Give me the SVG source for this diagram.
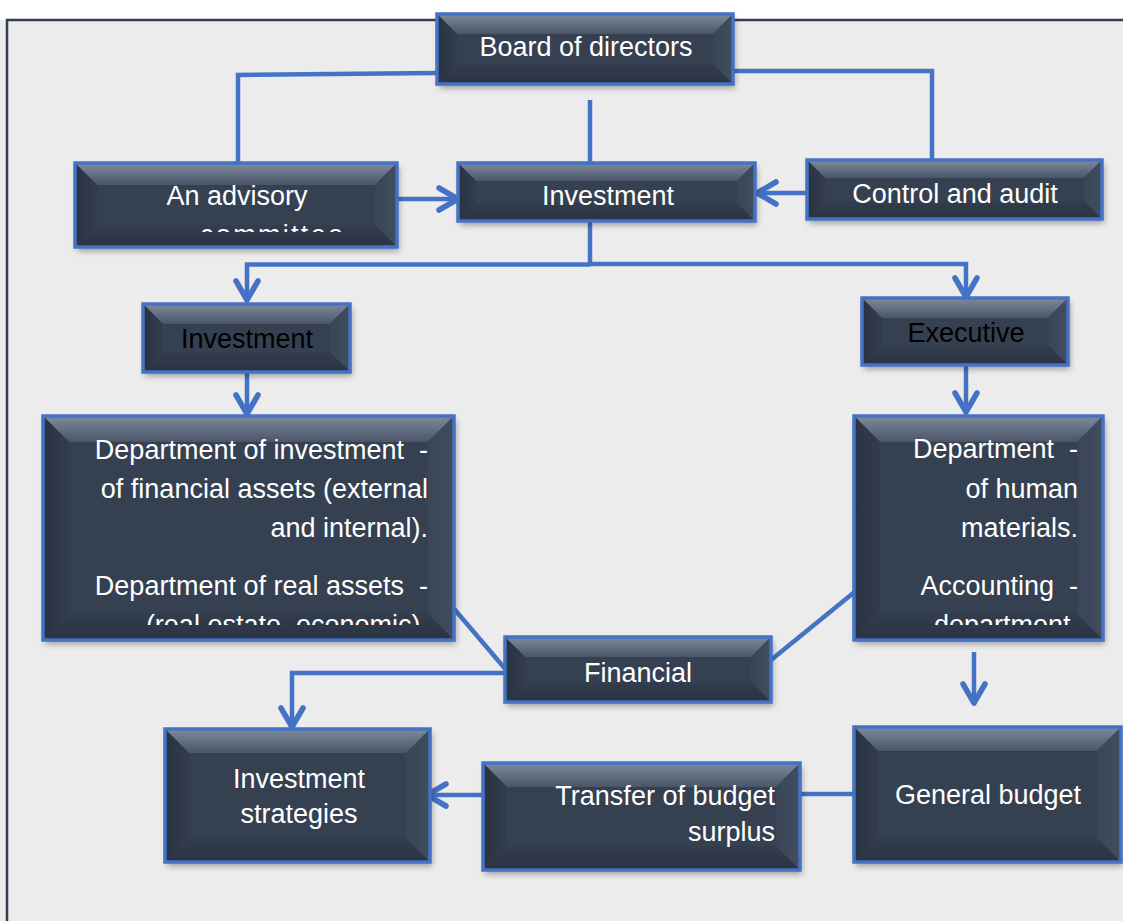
<svg xmlns="http://www.w3.org/2000/svg" width="1123" height="921" viewBox="0 0 1123 921">
<style>
.base{fill:#343f51}
.tp{fill:url(#gt)}
.lf{fill:url(#gl)}
.rt{fill:url(#gr)}
.bt{fill:url(#gb)}
.fr{fill:none;stroke:#4472c4;stroke-width:3.5}
.t{font-family:"Liberation Sans",Arial,sans-serif;font-size:27px;fill:#ffffff;white-space:pre}
.dk{fill:#000000}
.c{fill:none;stroke:#4472c4;stroke-width:4.5}
.ca{fill:none;stroke:#4472c4;stroke-width:4.5;marker-end:url(#ar)}
</style>
<defs>
<linearGradient id="gt" x1="0" y1="0" x2="0" y2="1">
<stop offset="0" stop-color="#7f8a9c"/>
<stop offset="1" stop-color="#4a5568"/>
</linearGradient>
<linearGradient id="gl" x1="0" y1="0" x2="1" y2="0">
<stop offset="0" stop-color="#2a3341"/>
<stop offset="1" stop-color="#313c4d"/>
</linearGradient>
<linearGradient id="gr" x1="0" y1="0" x2="1" y2="0">
<stop offset="0" stop-color="#3a4557"/>
<stop offset="1" stop-color="#414d60"/>
</linearGradient>
<linearGradient id="gb" x1="0" y1="0" x2="0" y2="1">
<stop offset="0" stop-color="#323d4e"/>
<stop offset="1" stop-color="#2a3341"/>
</linearGradient>
<filter id="sh" x="-10%" y="-10%" width="125%" height="130%">
<feDropShadow dx="2" dy="4" stdDeviation="3" flood-color="#000" flood-opacity="0.35"/>
</filter>
<marker id="ar" viewBox="-26 -16 32 32" refX="0" refY="0" markerWidth="32" markerHeight="32" markerUnits="userSpaceOnUse" orient="auto">
<path d="M-19,-11 L0,0 L-19,11" fill="none" stroke="#4472c4" stroke-width="5.5" stroke-linecap="round" stroke-linejoin="round"/>
</marker>
<clipPath id="clipAdv"><rect x="75" y="163" width="322" height="69"/></clipPath>
<clipPath id="clipDL"><rect x="43" y="416" width="411" height="209"/></clipPath>
<clipPath id="clipDR"><rect x="854" y="416" width="249" height="209"/></clipPath>
</defs>

<rect x="0" y="20" width="1123" height="901" fill="#ececec"/>
<path d="M7,921 V20 H1123" fill="none" stroke="#333f50" stroke-width="2.5"/>

<g id="connectors">
<polyline class="c" points="437,73 238,75 238,163"/>
<polyline class="c" points="733,71 932,71 932,160"/>
<line class="c" x1="590" y1="100" x2="590" y2="163"/>
<line class="ca" x1="397" y1="199" x2="458" y2="199"/>
<line class="ca" x1="807" y1="193" x2="757" y2="193"/>
<line class="c" x1="590" y1="221" x2="590" y2="265"/>
<path class="ca" d="M590,264.5 H247 V300"/>
<path class="ca" d="M588,264 H966 V297"/>
<line class="ca" x1="247" y1="372" x2="247" y2="414"/>
<line class="ca" x1="966" y1="365" x2="966" y2="412"/>
<line class="c" x1="444" y1="597" x2="507" y2="671"/>
<line class="c" x1="857" y1="590" x2="771" y2="660"/>
<path class="ca" d="M505,673 H292 V727"/>
<line class="ca" x1="974" y1="652" x2="974" y2="703"/>
<line class="c" x1="854" y1="794" x2="800" y2="794"/>
<line class="ca" x1="483" y1="795" x2="427" y2="795"/>
</g>

<g id="board">
<rect class="base" x="437" y="14" width="296" height="70" filter="url(#sh)"/>
<polygon class="tp" points="437,14 733,14 713,34 457,34"/>
<polygon class="lf" points="437,14 457,34 457,64 437,84"/>
<polygon class="rt" points="733,14 713,34 713,64 733,84"/>
<polygon class="bt" points="437,84 733,84 713,64 457,64"/>
<rect class="fr" x="437" y="14" width="296" height="70"/>
<text class="t" x="586" y="56" text-anchor="middle">Board of directors</text>
</g>

<g id="advisory">
<rect class="base" x="75" y="163" width="322" height="84" filter="url(#sh)"/>
<polygon class="tp" points="75,163 397,163 375,185 97,185"/>
<polygon class="lf" points="75,163 97,185 97,225 75,247"/>
<polygon class="rt" points="397,163 375,185 375,225 397,247"/>
<polygon class="bt" points="75,247 397,247 375,225 97,225"/>
<rect class="fr" x="75" y="163" width="322" height="84"/>
<text class="t" x="237" y="205" text-anchor="middle">An advisory</text>
<text class="t" x="200" y="244" clip-path="url(#clipAdv)" textLength="143">committee</text>
</g>

<g id="investment-main">
<rect class="base" x="458" y="163" width="297" height="58" filter="url(#sh)"/>
<polygon class="tp" points="458,163 755,163 737,181 476,181"/>
<polygon class="lf" points="458,163 476,181 476,203 458,221"/>
<polygon class="rt" points="755,163 737,181 737,203 755,221"/>
<polygon class="bt" points="458,221 755,221 737,203 476,203"/>
<rect class="fr" x="458" y="163" width="297" height="58"/>
<text class="t" x="608" y="205" text-anchor="middle">Investment</text>
</g>

<g id="control">
<rect class="base" x="807" y="160" width="295" height="59" filter="url(#sh)"/>
<polygon class="tp" points="807,160 1102,160 1084,178 825,178"/>
<polygon class="lf" points="807,160 825,178 825,201 807,219"/>
<polygon class="rt" points="1102,160 1084,178 1084,201 1102,219"/>
<polygon class="bt" points="807,219 1102,219 1084,201 825,201"/>
<rect class="fr" x="807" y="160" width="295" height="59"/>
<text class="t" x="955" y="203" text-anchor="middle">Control and audit</text>
</g>

<g id="investment-left">
<rect class="base" x="143" y="304" width="207" height="68" filter="url(#sh)"/>
<polygon class="tp" points="143,304 350,304 330,324 163,324"/>
<polygon class="lf" points="143,304 163,324 163,352 143,372"/>
<polygon class="rt" points="350,304 330,324 330,352 350,372"/>
<polygon class="bt" points="143,372 350,372 330,352 163,352"/>
<rect class="fr" x="143" y="304" width="207" height="68"/>
<text class="t dk" x="247" y="348" text-anchor="middle">Investment</text>
</g>

<g id="executive">
<rect class="base" x="862" y="298" width="206" height="67" filter="url(#sh)"/>
<polygon class="tp" points="862,298 1068,298 1048,318 882,318"/>
<polygon class="lf" points="862,298 882,318 882,345 862,365"/>
<polygon class="rt" points="1068,298 1048,318 1048,345 1068,365"/>
<polygon class="bt" points="862,365 1068,365 1048,345 882,345"/>
<rect class="fr" x="862" y="298" width="206" height="67"/>
<text class="t dk" x="966" y="342" text-anchor="middle">Executive</text>
</g>

<g id="dept-left">
<rect class="base" x="43" y="416" width="411" height="224" filter="url(#sh)"/>
<polygon class="tp" points="43,416 454,416 428,442 69,442"/>
<polygon class="lf" points="43,416 69,442 69,614 43,640"/>
<polygon class="rt" points="454,416 428,442 428,614 454,640"/>
<polygon class="bt" points="43,640 454,640 428,614 69,614"/>
<rect class="fr" x="43" y="416" width="411" height="224"/>
<g clip-path="url(#clipDL)">
<text class="t" x="428" y="459" text-anchor="end">Department of investment  -</text>
<text class="t" x="428" y="498" text-anchor="end">of financial assets (external</text>
<text class="t" x="428" y="537" text-anchor="end">and internal).</text>
<text class="t" x="428" y="595" text-anchor="end">Department of real assets  -</text>
<text class="t" x="428" y="634" text-anchor="end">(real estate, economic).</text>
</g>
</g>

<g id="dept-right">
<rect class="base" x="854" y="416" width="249" height="224" filter="url(#sh)"/>
<polygon class="tp" points="854,416 1103,416 1077,442 880,442"/>
<polygon class="lf" points="854,416 880,442 880,614 854,640"/>
<polygon class="rt" points="1103,416 1077,442 1077,614 1103,640"/>
<polygon class="bt" points="854,640 1103,640 1077,614 880,614"/>
<rect class="fr" x="854" y="416" width="249" height="224"/>
<g clip-path="url(#clipDR)">
<text class="t" x="1078" y="458" text-anchor="end">Department  -</text>
<text class="t" x="1078" y="498" text-anchor="end">of human</text>
<text class="t" x="1078" y="537" text-anchor="end">materials.</text>
<text class="t" x="1078" y="595" text-anchor="end">Accounting  -</text>
<text class="t" x="1078" y="634" text-anchor="end">department.</text>
</g>
</g>

<g id="financial">
<rect class="base" x="505" y="637" width="266" height="65" filter="url(#sh)"/>
<polygon class="tp" points="505,637 771,637 751,657 525,657"/>
<polygon class="lf" points="505,637 525,657 525,682 505,702"/>
<polygon class="rt" points="771,637 751,657 751,682 771,702"/>
<polygon class="bt" points="505,702 771,702 751,682 525,682"/>
<rect class="fr" x="505" y="637" width="266" height="65"/>
<text class="t" x="638" y="682" text-anchor="middle">Financial</text>
</g>

<g id="transfer">
<rect class="base" x="483" y="763" width="317" height="107" filter="url(#sh)"/>
<polygon class="tp" points="483,763 800,763 776,787 507,787"/>
<polygon class="lf" points="483,763 507,787 507,846 483,870"/>
<polygon class="rt" points="800,763 776,787 776,846 800,870"/>
<polygon class="bt" points="483,870 800,870 776,846 507,846"/>
<rect class="fr" x="483" y="763" width="317" height="107"/>
<text class="t" x="775" y="805" text-anchor="end">Transfer of budget</text>
<text class="t" x="775" y="841" text-anchor="end">surplus</text>
</g>

<g id="strategies">
<rect class="base" x="165" y="729" width="265" height="133" filter="url(#sh)"/>
<polygon class="tp" points="165,729 430,729 406,753 189,753"/>
<polygon class="lf" points="165,729 189,753 189,838 165,862"/>
<polygon class="rt" points="430,729 406,753 406,838 430,862"/>
<polygon class="bt" points="165,862 430,862 406,838 189,838"/>
<rect class="fr" x="165" y="729" width="265" height="133"/>
<text class="t" x="299" y="788" text-anchor="middle">Investment</text>
<text class="t" x="299" y="823" text-anchor="middle">strategies</text>
</g>

<g id="general-budget">
<rect class="base" x="854" y="727" width="267" height="135" filter="url(#sh)"/>
<polygon class="tp" points="854,727 1121,727 1097,751 878,751"/>
<polygon class="lf" points="854,727 878,751 878,838 854,862"/>
<polygon class="rt" points="1121,727 1097,751 1097,838 1121,862"/>
<polygon class="bt" points="854,862 1121,862 1097,838 878,838"/>
<rect class="fr" x="854" y="727" width="267" height="135"/>
<text class="t" x="988" y="804" text-anchor="middle">General budget</text>
</g>
</svg>
